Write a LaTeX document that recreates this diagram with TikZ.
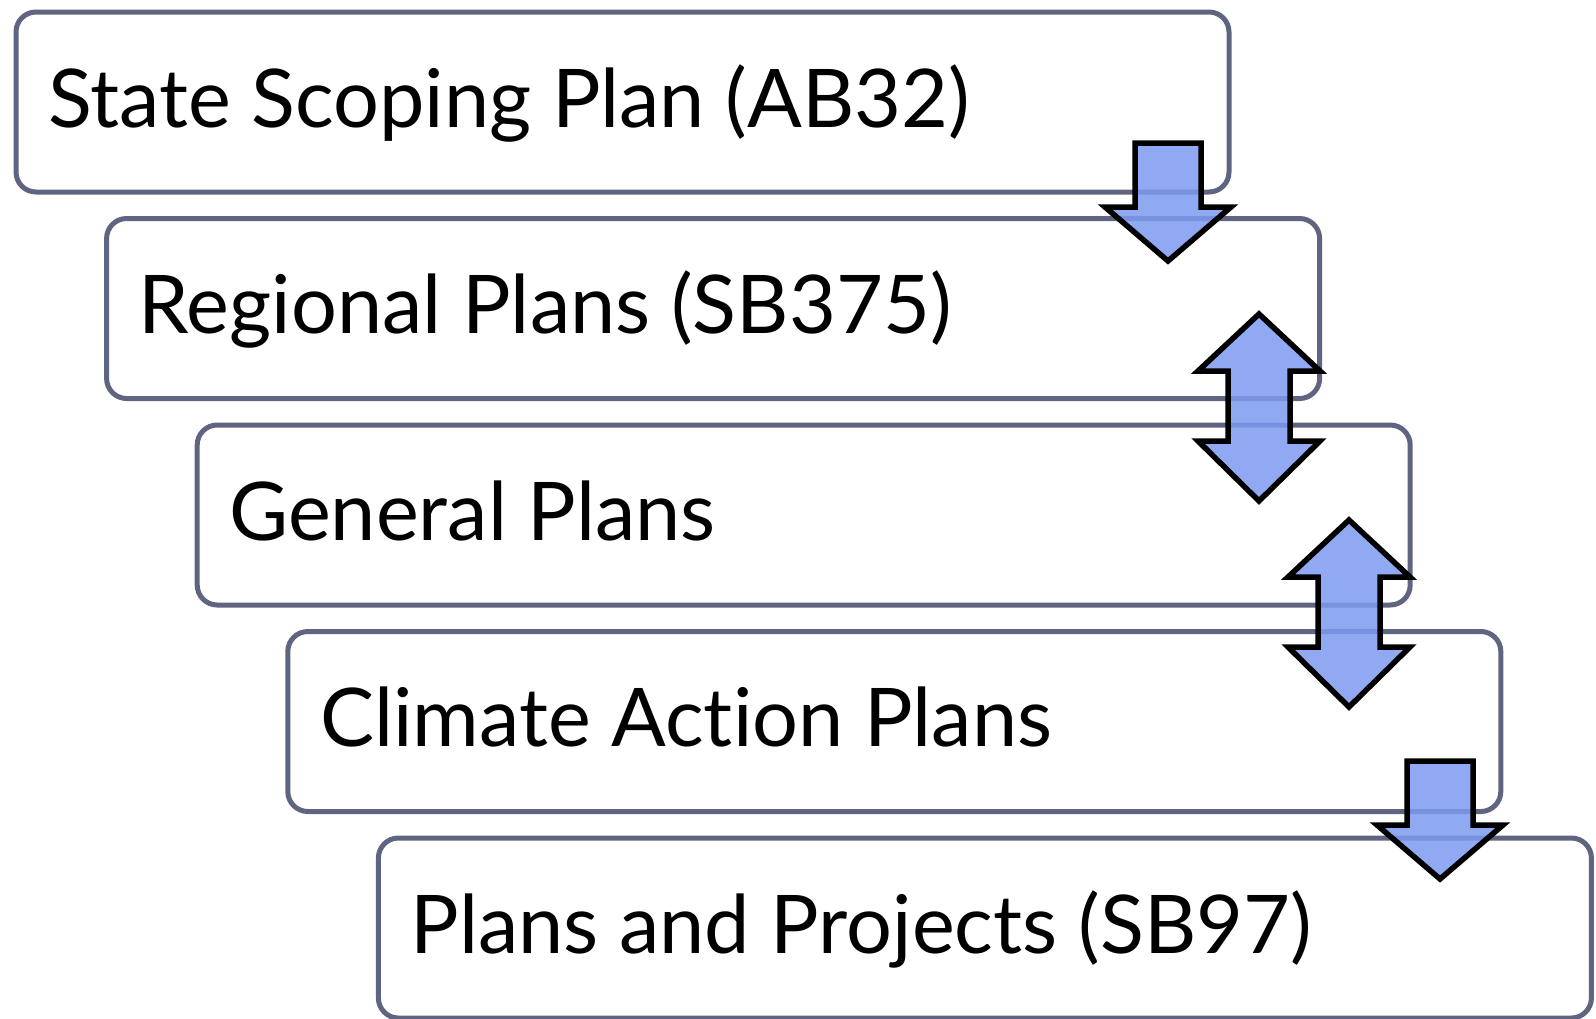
\documentclass[tikz,border=0pt]{standalone}
\usepackage{fontspec}
\setmainfont{Lato}[Ligatures={NoCommon}]
\definecolor{boxline}{RGB}{95,101,128}
\definecolor{arrowfill}{RGB}{125,155,240}
\tikzset{
  planbox/.style={draw=boxline, line width=5pt, rounded corners=20pt, fill=white,
    minimum width=1213pt, minimum height=180pt, anchor=north west, inner sep=0pt},
  plantext/.style={anchor=base west, inner sep=0pt, font=\fontsize{81}{97}\selectfont},
  blockarrow/.style={draw=black, line width=5.5pt, fill=arrowfill, fill opacity=0.85, line join=miter}
}
\begin{document}
\begin{tikzpicture}[x=1pt,y=-1pt]
\useasboundingbox (0,0) rectangle (1596,1018);
\foreach \i/\t in {0/State Scoping Plan (AB32),1/Regional Plans (SB375),2/General Plans,3/Climate Action Plans,4/Plans and Projects (SB97)}{
  \node[planbox] (b\i) at ({13.5+90.6*\i},{9.5+206.5*\i}) {};
  \node[plantext] (t\i) at ({48+90.6*\i},{127+206.5*\i}) {\t};
}
% single down arrows
\foreach \n/\cx/\ty in {a1/1168/143, a4/1440/761}{
  \draw[blockarrow] (\cx-33,\ty) -- (\cx+33,\ty) -- (\cx+33,\ty+64) -- (\cx+63,\ty+64)
    -- (\cx,\ty+118) -- (\cx-63,\ty+64) -- (\cx-33,\ty+64) -- cycle;
  \coordinate (\n) at (\cx,\ty);
}
% double arrows
\foreach \n/\cx/\ty in {a2/1259/314, a3/1349/520}{
  \draw[blockarrow] (\cx,\ty) -- (\cx+61,\ty+57) -- (\cx+31,\ty+57) -- (\cx+31,\ty+127)
    -- (\cx+61,\ty+127) -- (\cx,\ty+187) -- (\cx-61,\ty+127) -- (\cx-31,\ty+127)
    -- (\cx-31,\ty+57) -- (\cx-61,\ty+57) -- cycle;
  \coordinate (\n) at (\cx,\ty);
}
\end{tikzpicture}
\end{document}
